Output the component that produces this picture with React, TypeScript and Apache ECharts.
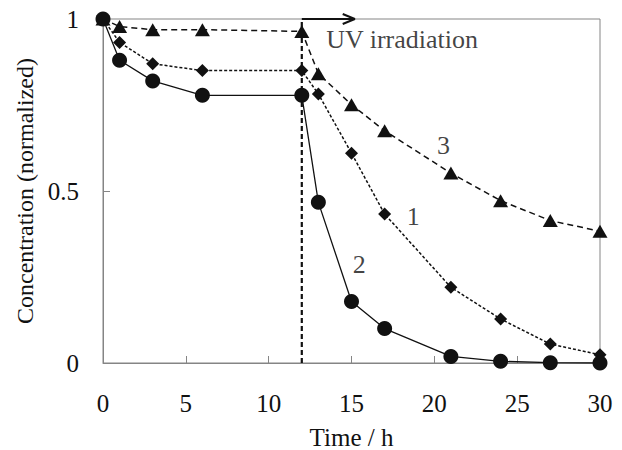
import React, { useEffect, useRef } from "react";
import * as echarts from "echarts";

const timeH = [0, 1, 3, 6, 12, 13, 15, 17, 21, 24, 27, 30];
const series1 = [1.0, 0.932, 0.87, 0.85, 0.85, 0.782, 0.61, 0.433, 0.22, 0.128, 0.055, 0.024];
const series2 = [1.0, 0.88, 0.82, 0.778, 0.778, 0.467, 0.179, 0.1, 0.019, 0.005, 0.001, 0.0];
const series3 = [1.0, 0.978, 0.969, 0.969, 0.964, 0.841, 0.751, 0.675, 0.552, 0.472, 0.414, 0.383];
const xTicks = { min: 0, max: 30, interval: 5 };
const yTicks = { min: 0, max: 1, interval: 0.5 };
const uvStart = 12;
const uvArrowEnd = 15.2;
const curveLabels = [
  { x: 18.73, y: 0.426, text: "1" },
  { x: 15.47, y: 0.286, text: "2" },
  { x: 20.55, y: 0.633, text: "3" },
];
const uvLabel = { x: 13.47, y: 0.94, text: "UV irradiation" };

const FONT = "'Liberation Serif', 'Times New Roman', serif";

export default function App() {
  const ref = useRef<HTMLDivElement>(null);
  useEffect(() => {
    if (!ref.current) return;
    const chart = echarts.init(ref.current, undefined, { renderer: "svg" });
    const pair = (ys: number[]) => timeH.map((t, i) => [t, ys[i]]);
    const axisColor = "#858585";
    chart.setOption({
      animation: false,
      backgroundColor: "#ffffff",
      textStyle: { fontFamily: FONT },
      grid: {
        left: 103,
        right: 22,
        top: 19,
        bottom: 87,
        containLabel: false,
        outerBoundsMode: "none",
        show: true,
        borderColor: axisColor,
        borderWidth: 1,
        backgroundColor: "transparent",
      },
      xAxis: {
        type: "value",
        min: xTicks.min,
        max: xTicks.max,
        interval: xTicks.interval,
        name: "Time / h",
        nameLocation: "middle",
        nameGap: 62,
        nameTextStyle: { fontFamily: FONT, fontSize: 25, color: "#111" },
        axisLine: { show: true, lineStyle: { color: axisColor, width: 1 } },
        axisTick: { show: true, inside: true, length: 7, lineStyle: { color: axisColor } },
        axisLabel: { fontFamily: FONT, fontSize: 25, color: "#111", margin: 28 },
        splitLine: { show: false },
      },
      yAxis: {
        type: "value",
        min: yTicks.min,
        max: yTicks.max,
        interval: yTicks.interval,
        name: "Concentration (normalized)",
        nameLocation: "middle",
        nameGap: 66,
        nameTextStyle: { fontFamily: FONT, fontSize: 24, color: "#111" },
        axisLine: { show: true, lineStyle: { color: axisColor, width: 1 } },
        axisTick: { show: true, inside: true, length: 7, lineStyle: { color: axisColor } },
        axisLabel: { fontFamily: FONT, fontSize: 25, color: "#111", margin: 24 },
        splitLine: { show: false },
      },
      series: [
        {
          name: "uv-line",
          type: "line",
          data: [
            [uvStart, 0],
            [uvStart, 1],
          ],
          symbol: "none",
          lineStyle: { color: "#111", width: 2.2, type: [5, 3] },
          z: 1,
        },
        {
          name: "uv-arrow",
          type: "line",
          data: [
            [uvStart, 1],
            [uvArrowEnd, 1],
          ],
          symbol: "none",
          clip: false,
          lineStyle: { color: "#111", width: 2 },
          z: 1,
        },
        {
          name: "uv-arrowhead",
          type: "line",
          data: [
            [uvArrowEnd - 0.73, 1.0145],
            [uvArrowEnd, 1],
            [uvArrowEnd - 0.73, 0.9855],
          ],
          symbol: "none",
          clip: false,
          lineStyle: { color: "#111", width: 2 },
          z: 1,
        },
        {
          name: "3",
          type: "line",
          data: pair(series3),
          symbol: "triangle",
          symbolSize: [15, 13],
          itemStyle: { color: "#111" },
          lineStyle: { color: "#111", width: 1.5, type: [6, 4] },
          z: 2,
        },
        {
          name: "1",
          type: "line",
          data: pair(series1),
          symbol: "diamond",
          symbolSize: 13,
          itemStyle: { color: "#111" },
          lineStyle: { color: "#111", width: 1.5, type: [3, 2] },
          z: 3,
        },
        {
          name: "2",
          type: "line",
          data: pair(series2),
          symbol: "circle",
          symbolSize: 15,
          itemStyle: { color: "#111" },
          lineStyle: { color: "#111", width: 1.3 },
          z: 4,
        },
        {
          name: "labels",
          type: "scatter",
          data: curveLabels.map((l) => ({ value: [l.x, l.y], name: l.text })),
          symbolSize: 0,
          clip: false,
          label: {
            show: true,
            position: "inside",
            formatter: (p: any) => p.name,
            fontFamily: FONT,
            fontSize: 26,
            color: "#111",
          },
          z: 5,
        },
        {
          name: "uvlabel",
          type: "scatter",
          data: [{ value: [uvLabel.x, uvLabel.y], name: uvLabel.text }],
          symbolSize: 0,
          clip: false,
          label: {
            show: true,
            position: "right",
            distance: 0,
            formatter: (p: any) => p.name,
            fontFamily: FONT,
            fontSize: 26,
            color: "#111",
          },
          z: 5,
        },
      ],
    });
    return () => chart.dispose();
  }, []);
  return (
    <div
      ref={ref}
      style={{ position: "fixed", left: 0, top: 0, width: 622, height: 450, background: "#fff" }}
    />
  );
}
